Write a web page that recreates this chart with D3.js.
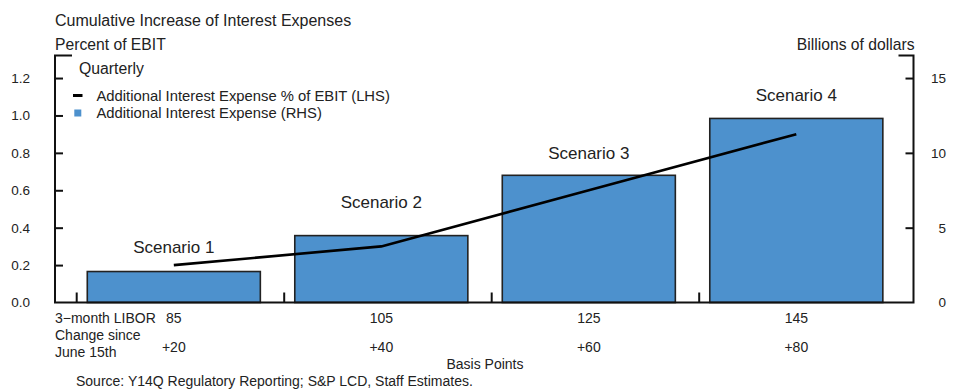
<!DOCTYPE html>
<html>
<head>
<meta charset="utf-8">
<script src="https://cdn.jsdelivr.net/npm/d3@7"></script>
<style>
  html, body { margin: 0; padding: 0; background: #fff; }
  svg { display: block; font-family: "Liberation Sans", Arial, sans-serif; }
  text { fill: #222; }
</style>
</head>
<body>
<svg id="chart" width="956" height="390"></svg>
<script>
// ---- data ----
const scenarios = ["Scenario 1", "Scenario 2", "Scenario 3", "Scenario 4"];
const liborLevels = ["85", "105", "125", "145"];
const liborChanges = ["+20", "+40", "+60", "+80"];
const expenseBillions = [2.07, 4.47, 8.5, 12.3];      // bars, RHS
const expensePctEBIT = [0.2, 0.3, 0.6, 0.9];          // line, LHS
const leftTicks = [0.0, 0.2, 0.4, 0.6, 0.8, 1.0, 1.2];
const rightTicks = [0, 5, 10, 15];

// ---- layout ----
const svg = d3.select("#chart");
const L = 55, R = 913.5, B = 302.5, T = 55.6;
const barColor = "#4d91cd";
const labelGap = [24, 34, 22, 23];

const x = d3.scaleBand().domain(scenarios).range([76.7, 906.7]).paddingInner(0).paddingOuter(0);
const bw = x.bandwidth();
const barX = s => x(s) + bw * 0.051;
const barW = bw * 0.834;
const cx = s => barX(s) + barW / 2;

const yL = d3.scaleLinear().domain([0, 1.32]).range([B, T]);
const yR = d3.scaleLinear().domain([0, 16.5]).range([B, T]);

// bars
svg.append("g").selectAll("rect").data(scenarios).join("rect")
  .attr("x", d => barX(d))
  .attr("width", barW)
  .attr("y", (d, i) => yR(expenseBillions[i]))
  .attr("height", (d, i) => B - yR(expenseBillions[i]))
  .attr("fill", barColor)
  .attr("stroke", "#222")
  .attr("stroke-width", 1.6);

// line
const line = d3.line().x(d => cx(d.s)).y(d => yL(d.v));
svg.append("path")
  .datum(scenarios.map((s, i) => ({ s, v: expensePctEBIT[i] })))
  .attr("d", line)
  .attr("fill", "none")
  .attr("stroke", "#000")
  .attr("stroke-width", 2.6);

// scenario labels
svg.append("g").selectAll("text").data(scenarios).join("text")
  .attr("x", d => cx(d))
  .attr("y", (d, i) => yR(expenseBillions[i]) - labelGap[i])
  .attr("dy", "0.35em")
  .attr("text-anchor", "middle")
  .attr("font-size", 17)
  .text(d => d);

// axes frame
const ax = svg.append("g").attr("stroke", "#111").attr("stroke-width", 2).attr("fill", "none");
ax.append("path").attr("d", `M${L + 17},${T} H${L} V${B} H${R} V${T} H${R - 15}`);

// left axis
const leftAxis = d3.axisLeft(yL).tickValues(leftTicks).tickSize(-8).tickPadding(0).tickFormat(d3.format(".1f"));
const gl = svg.append("g").attr("transform", `translate(${L},0)`).call(leftAxis);
gl.select(".domain").remove();
gl.selectAll(".tick line").attr("stroke", "#111").attr("stroke-width", 2)
  .filter(d => d === 0).remove();
gl.selectAll(".tick text").attr("x", 30 - L).attr("text-anchor", "end")
  .attr("font-size", 13.5).attr("font-family", "Liberation Sans, Arial, sans-serif").attr("fill", "#222");

// right axis
const rightAxis = d3.axisRight(yR).tickValues(rightTicks).tickSize(-8).tickPadding(0).tickFormat(d3.format("d"));
const gr = svg.append("g").attr("transform", `translate(${R},0)`).call(rightAxis);
gr.select(".domain").remove();
gr.selectAll(".tick line").attr("stroke", "#111").attr("stroke-width", 2)
  .filter(d => d === 0).remove();
gr.selectAll(".tick text").attr("x", 946 - R).attr("text-anchor", "end")
  .attr("font-size", 13.5).attr("font-family", "Liberation Sans, Arial, sans-serif").attr("fill", "#222");

// category boundary ticks
svg.append("g").selectAll("line").data(scenarios).join("line")
  .attr("x1", d => x(d)).attr("x2", d => x(d))
  .attr("y1", B).attr("y2", B - 10)
  .attr("stroke", "#111").attr("stroke-width", 2);

// category labels
const catG = svg.append("g").attr("font-size", 14);
catG.selectAll("text.lvl").data(scenarios).join("text").attr("class", "lvl")
  .attr("x", d => cx(d)).attr("y", 318.5).attr("dy", "0.35em").attr("text-anchor", "middle")
  .text((d, i) => liborLevels[i]);
catG.selectAll("text.chg").data(scenarios).join("text").attr("class", "chg")
  .attr("x", d => cx(d)).attr("y", 347.5).attr("dy", "0.35em").attr("text-anchor", "middle")
  .text((d, i) => liborChanges[i]);
catG.append("text").attr("x", L).attr("y", 318.5).attr("dy", "0.35em").text("3\u2212month LIBOR");
catG.append("text").attr("x", L).attr("y", 335).attr("dy", "0.35em").text("Change since");
catG.append("text").attr("x", L).attr("y", 351.7).attr("dy", "0.35em").text("June 15th");
catG.append("text").attr("x", 485).attr("y", 364).attr("dy", "0.35em").attr("text-anchor", "middle").text("Basis Points");

// titles
svg.append("text").attr("x", L).attr("y", 20.5).attr("dy", "0.35em").attr("font-size", 16)
  .text("Cumulative Increase of Interest Expenses");
svg.append("text").attr("x", L).attr("y", 44.5).attr("dy", "0.35em").attr("font-size", 15.7)
  .text("Percent of EBIT");
svg.append("text").attr("x", R + 1).attr("y", 44.5).attr("dy", "0.35em").attr("font-size", 15.7)
  .attr("text-anchor", "end").text("Billions of dollars");

// legend
const lg = svg.append("g").attr("font-size", 14.8);
lg.append("text").attr("x", 79).attr("y", 68.5).attr("dy", "0.35em").attr("font-size", 15.8).text("Quarterly");
lg.append("line").attr("x1", 73).attr("x2", 82.5).attr("y1", 95.5).attr("y2", 95.5)
  .attr("stroke", "#000").attr("stroke-width", 3);
lg.append("text").attr("x", 96.5).attr("y", 95.8).attr("dy", "0.35em").text("Additional Interest Expense % of EBIT (LHS)");
lg.append("rect").attr("x", 74.3).attr("y", 109.5).attr("width", 7).attr("height", 7).attr("fill", barColor);
lg.append("text").attr("x", 96.5).attr("y", 112.5).attr("dy", "0.35em").text("Additional Interest Expense (RHS)");

// source
svg.append("text").attr("x", 76).attr("y", 380.7).attr("dy", "0.35em").attr("font-size", 14)
  .text("Source: Y14Q Regulatory Reporting; S&P LCD, Staff Estimates.");
</script>
</body>
</html>
